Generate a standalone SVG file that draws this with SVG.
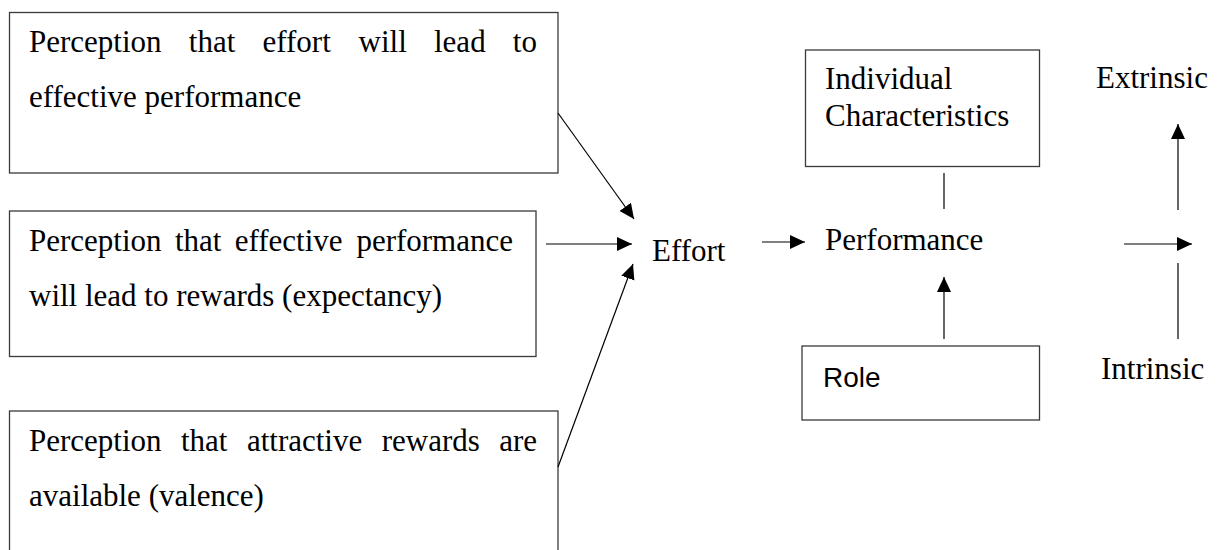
<svg xmlns="http://www.w3.org/2000/svg" width="1224" height="550" viewBox="0 0 1224 550">
  <style>
    .box { fill: #ffffff; stroke: #3a3a3a; stroke-width: 1.3; }
    .t { font-family: "Liberation Serif", "Times New Roman", serif; font-size: 31px; fill: #000000; }
    .ts { font-family: "Liberation Sans", Arial, sans-serif; font-size: 28px; fill: #000000; }
    .ln { stroke: #000000; stroke-width: 1.2; fill: none; }
    .arr { stroke: #000000; stroke-width: 1.2; fill: none; marker-end: url(#head); }
  </style>
  <defs>
    <marker id="head" markerUnits="userSpaceOnUse" markerWidth="16" markerHeight="16" refX="15" refY="7" orient="auto">
      <path d="M0,0 L15,7 L0,14 Z" fill="#000000"/>
    </marker>
  </defs>
  <rect width="1224" height="550" fill="#ffffff"/>

  <!-- expectancy: effort leads to performance -->
  <g id="box-effort-performance">
    <rect class="box" x="9.5" y="12.5" width="548.5" height="160.5"/>
    <text class="t" y="52">
      <tspan x="29">Perception</tspan><tspan x="188.8">that</tspan><tspan x="262.5">effort</tspan><tspan x="358.6">will</tspan><tspan x="434">lead</tspan><tspan x="512.8">to</tspan>
    </text>
    <text class="t" x="29" y="107">effective performance</text>
  </g>

  <!-- instrumentality: performance leads to rewards -->
  <g id="box-performance-rewards">
    <rect class="box" x="9.5" y="211" width="526.5" height="145.5"/>
    <text class="t" y="251">
      <tspan x="29">Perception</tspan><tspan x="174.9">that</tspan><tspan x="234.7">effective</tspan><tspan x="356.4">performance</tspan>
    </text>
    <text class="t" x="29" y="306">will lead to rewards (expectancy)</text>
  </g>

  <!-- valence: rewards are attractive -->
  <g id="box-rewards-valence">
    <rect class="box" x="9.5" y="411" width="548.5" height="160"/>
    <text class="t" y="451">
      <tspan x="29">Perception</tspan><tspan x="181">that</tspan><tspan x="246.9">attractive</tspan><tspan x="381.7">rewards</tspan><tspan x="499.2">are</tspan>
    </text>
    <text class="t" x="29" y="506">available (valence)</text>
  </g>

  <g id="node-effort">
    <text class="t" x="652" y="261">Effort</text>
  </g>

  <g id="node-performance">
    <text class="t" x="825" y="250">Performance</text>
  </g>

  <g id="box-individual">
    <rect class="box" x="805.5" y="50" width="234" height="116.5"/>
    <text class="t" x="825" y="89">Individual</text>
    <text class="t" x="825" y="126">Characteristics</text>
  </g>

  <g id="box-role">
    <rect class="box" x="802" y="346" width="237.5" height="74"/>
    <text class="ts" x="823" y="387">Role</text>
  </g>

  <g id="node-extrinsic">
    <text class="t" x="1096" y="88">Extrinsic</text>
  </g>

  <g id="node-intrinsic">
    <text class="t" x="1101" y="379">Intrinsic</text>
  </g>

  <g id="connectors">
    <line class="arr" x1="558" y1="113" x2="634" y2="219"/>
    <line class="arr" x1="546" y1="244" x2="632" y2="244"/>
    <line class="arr" x1="558" y1="467" x2="633" y2="264"/>
    <line class="arr" x1="762" y1="242" x2="805" y2="242"/>
    <line class="ln" x1="944" y1="173" x2="944" y2="209"/>
    <line class="arr" x1="944" y1="339" x2="944" y2="277"/>
    <line class="arr" x1="1124" y1="244" x2="1192" y2="244"/>
    <line class="arr" x1="1178" y1="210" x2="1178" y2="124"/>
    <line class="ln" x1="1178" y1="263" x2="1178" y2="339"/>
  </g>
</svg>
